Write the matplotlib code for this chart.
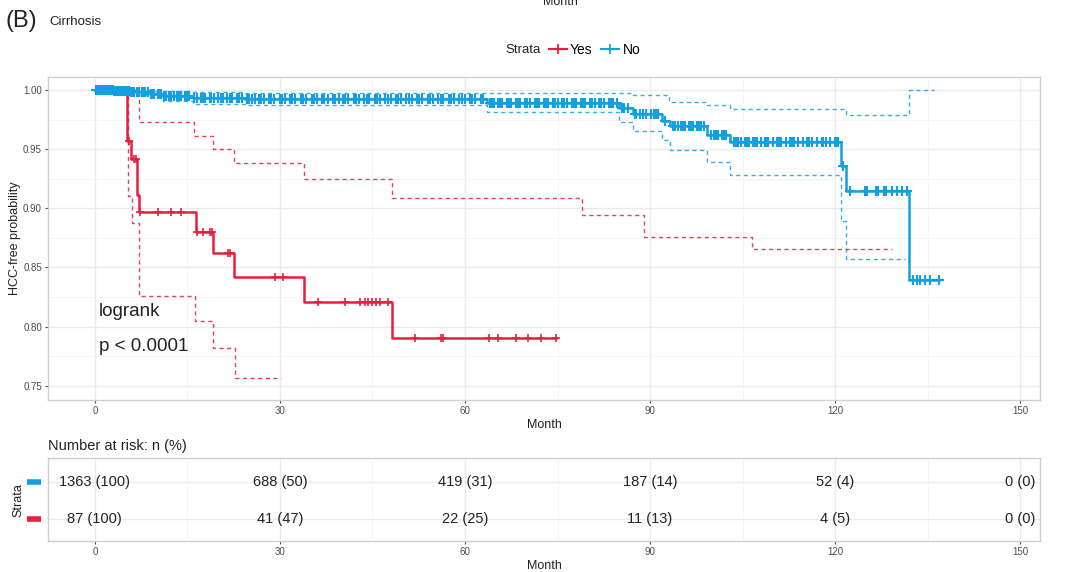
import numpy as np
import matplotlib
matplotlib.use("Agg")
import matplotlib.pyplot as plt
from matplotlib.lines import Line2D

plt.rcParams['font.family'] = ['Liberation Sans', 'DejaVu Sans']

RED = "#E5203F"
BLUE = "#12A0E0"
GRID = "#EBEBEB"
BORDER = "#D0D0D0"
TICK = "#4D4D4D"

# survival steps (time, probability)
yes_t = [0, 5.2, 5.8, 6.9, 7.2, 16.4, 19.1, 22.5, 33.9, 48.1, 74.7]
yes_s = [1.0, 0.957, 0.942, 0.911, 0.897, 0.880, 0.862, 0.842, 0.821, 0.790, 0.790]
yes_up_t = [0, 7.1, 16.0, 19.1, 22.5, 33.9, 48.2, 79.0, 89.0, 106.5, 129.3]
yes_up_s = [1.0, 0.973, 0.961, 0.950, 0.938, 0.925, 0.909, 0.894, 0.876, 0.866, 0.866]
yes_lo_t = [0, 5.4, 6.1, 7.2, 16.2, 19.1, 22.7, 30.1]
yes_lo_s = [1.0, 0.910, 0.888, 0.826, 0.805, 0.782, 0.757, 0.757]
yes_cens = [0.3, 0.6, 2.9, 4.4, 5.5, 6.3, 6.7, 7.4, 10.2, 12.3, 13.9, 16.6, 17.5, 18.6, 19.0,
            21.6, 21.9, 29.2, 30.5, 36.1, 40.5, 43.0, 43.8, 44.2, 44.9, 45.5, 46.2, 47.5,
            51.9, 56.1, 56.4, 63.9, 65.3, 68.2, 70.2, 72.3, 74.7]

no_t = [0, 3.0, 5.7, 8.9, 11.0, 15.9, 24.3, 63.5, 85.0, 87.2, 91.9, 93.2, 99.2, 103.0,
        121.0, 121.7, 131.9, 136.8]
no_s = [1.0, 0.9993, 0.9985, 0.997, 0.995, 0.993, 0.992, 0.989, 0.985, 0.980, 0.974, 0.970,
        0.962, 0.956, 0.936, 0.915, 0.839, 0.839]
no_up_t = [0, 8.9, 15.9, 24.3, 87.2, 93.0, 99.2, 103.0, 121.7, 131.9, 136.0]
no_up_s = [1.0, 0.9995, 0.998, 0.9975, 0.996, 0.990, 0.987, 0.984, 0.979, 1.0, 1.0]
no_lo_t = [0, 3.0, 5.7, 8.9, 11.0, 15.9, 24.3, 63.5, 85.0, 87.2, 91.9, 93.2, 99.2, 103.0,
           121.0, 121.7, 131.3]
no_lo_s = [1.0, 0.998, 0.996, 0.994, 0.991, 0.988, 0.987, 0.981, 0.973, 0.965, 0.958, 0.949,
           0.939, 0.928, 0.889, 0.857, 0.857]
no_cens = [0.2, 0.5, 0.8, 1.1, 1.4, 1.7, 2.0, 2.2, 2.4, 2.7, 2.9, 3.1, 3.4, 3.6, 3.8, 4.0,
           4.2, 4.6, 4.8, 5.0, 5.4, 5.6, 5.9, 6.1, 6.3, 6.8, 7.0, 7.2, 7.7, 7.9, 8.1, 8.6,
           9.1, 9.3, 9.6,
           10.2, 10.5, 10.8, 11.2, 11.5, 12.1, 12.4, 12.8, 13.3, 13.6, 14.0, 14.6, 14.9, 15.2,
           16.1, 16.5, 17.2, 17.5, 17.9, 18.6, 18.9, 19.3, 20.0, 20.4, 20.8, 21.5, 21.9, 22.3,
           23.0, 23.4, 23.8, 24.6,
           25.0, 25.4, 25.9, 26.6, 26.9, 27.5, 28.3, 28.6, 29.1, 30.0, 30.4, 30.9, 31.6, 32.0,
           32.4, 33.5, 33.8, 34.3, 35.2, 35.5, 36.0, 36.9, 37.2, 37.8, 38.6, 39.0, 39.5, 40.3,
           40.6, 41.1, 42.0, 42.3, 42.8, 43.7, 44.1, 44.5, 45.4, 45.8, 46.2, 47.1, 47.5, 48.0,
           48.8, 49.2, 49.7, 50.5, 50.9, 51.4, 52.3, 52.6, 53.1, 54.0, 54.4, 54.8, 55.7, 56.1,
           56.5, 57.4, 57.7, 58.2, 59.1, 59.5, 60.0, 60.8, 61.2, 61.7, 62.6, 63.0,
           64.0, 64.4, 64.7, 65.3, 65.7, 66.0, 66.8, 67.1, 67.5, 68.3, 68.6, 69.0, 69.8, 70.1,
           70.5, 71.3, 71.6, 72.0, 72.8, 73.1, 73.5, 74.3, 74.6, 75.0, 75.8, 76.1, 76.5, 77.3,
           77.6, 78.0, 78.8, 79.1, 79.5, 80.3, 80.6, 81.0, 81.8, 82.1, 82.5, 83.3, 83.6, 84.0,
           84.6, 85.4, 85.8, 86.5, 87.6, 87.8, 88.4, 88.8, 89.3, 90.1, 90.6, 91.0, 91.3, 92.5,
           93.8, 94.1, 94.5, 95.0, 95.3, 95.7, 96.3, 96.6, 97.0, 97.6, 98.0, 98.3, 98.8,
           99.8, 100.3, 100.7, 101.0, 101.6, 102.0, 102.3,
           103.6, 103.9, 104.2, 104.8, 105.4, 105.7, 106.0, 106.7, 107.0, 107.3, 108.0, 108.6,
           108.9, 109.2, 109.9, 110.6, 110.9, 111.3, 112.0, 112.7, 113.0, 113.3, 114.0, 114.8,
           115.5, 115.8, 116.2, 117.0, 117.8, 118.1, 118.5, 119.2, 119.9, 120.2, 120.5, 121.3,
           122.4, 124.8, 125.1, 126.7, 126.9, 128.0, 128.3, 129.2, 130.0, 130.9, 131.6,
           132.6, 133.2, 133.7, 134.5, 135.3, 136.8]

risk_times = [0, 30, 60, 90, 120, 150]
risk_no = ["1363 (100)", "688 (50)", "419 (31)", "187 (14)", "52 (4)", "0 (0)"]
risk_yes = ["87 (100)", "41 (47)", "22 (25)", "11 (13)", "4 (5)", "0 (0)"]


def step_at(t, s, x):
    idx = np.searchsorted(t, x, side="right") - 1
    return np.array(s)[idx]


def style_panel(ax):
    ax.set_facecolor("white")
    for sp in ax.spines.values():
        sp.set_color(BORDER)
        sp.set_linewidth(1.0)
    ax.tick_params(axis="both", colors=TICK, labelsize=7, length=2.5, width=0.8,
                   labelcolor=TICK, pad=1.8)
    ax.set_axisbelow(True)


fig = plt.figure(figsize=(10.8, 5.72), dpi=100)

ax = fig.add_axes([0.0444, 0.3007, 0.9185, 0.5647])
style_panel(ax)
ax.set_xlim(-7.6, 153.2)
ax.set_ylim(0.738, 1.011)
ax.set_xticks([0, 30, 60, 90, 120, 150])
ax.set_xticks([15, 45, 75, 105, 135], minor=True)
ax.set_yticks([0.75, 0.80, 0.85, 0.90, 0.95, 1.00])
ax.set_yticks([0.775, 0.825, 0.875, 0.925, 0.975], minor=True)
ax.set_yticklabels(["0.75", "0.80", "0.85", "0.90", "0.95", "1.00"])
ax.tick_params(which="minor", length=0)
ax.grid(which="major", color=GRID, lw=1.0)
ax.grid(which="minor", color="#F4F4F4", lw=0.6)

# confidence bands
ax.step(no_up_t, no_up_s, where="post", color=BLUE, lw=1.0, ls=(0, (3, 2.5)), alpha=0.85)
ax.step(no_lo_t, no_lo_s, where="post", color=BLUE, lw=1.0, ls=(0, (3, 2.5)), alpha=0.85)
ax.step(yes_up_t, yes_up_s, where="post", color=RED, lw=1.0, ls=(0, (3, 2.5)), alpha=0.85)
ax.step(yes_lo_t, yes_lo_s, where="post", color=RED, lw=1.0, ls=(0, (3, 2.5)), alpha=0.85)

# curves
ax.step(yes_t, yes_s, where="post", color=RED, lw=1.8)
ax.step(no_t, no_s, where="post", color=BLUE, lw=1.8)
ax.plot(yes_cens, step_at(yes_t, yes_s, yes_cens), ls="none", marker="+", ms=6,
        mew=1.2, color=RED)
ax.plot(no_cens, step_at(no_t, no_s, no_cens), ls="none", marker="+", ms=6.5,
        mew=1.5, color=BLUE)

ax.text(0.6, 0.813, "logrank", fontsize=13.5, va="center", ha="left", color="#222222")
ax.text(0.6, 0.783, "p < 0.0001", fontsize=13.5, va="center", ha="left", color="#222222")
ax.set_xlabel("Month", fontsize=9, color="#222222", labelpad=2)
ax.set_ylabel("HCC-free probability", fontsize=9, color="#222222")
ax.yaxis.set_label_coords(-0.027, 0.5)

# titles / legend
fig.text(0.005, 0.963, "(B)", fontsize=17, va="center", ha="left", color="#222222")
fig.text(0.046, 0.962, "Cirrhosis", fontsize=9.5, va="center", ha="left", color="#222222")
fig.text(0.503, 0.997, "Month", fontsize=9, va="center", ha="left", color="#222222")
fig.text(0.468, 0.9126, "Strata", fontsize=9.5, va="center", ha="left", color="#222222")
handles = [Line2D([], [], color=RED, marker="+", lw=1.5, ms=7, mew=1.3),
           Line2D([], [], color=BLUE, marker="+", lw=1.5, ms=7, mew=1.3)]
fig.legend(handles, ["Yes", "No"], loc="center left", bbox_to_anchor=(0.508, 0.9126),
           ncol=2, frameon=False, fontsize=10, handlelength=1.3, handletextpad=0.25,
           columnspacing=0.6, borderaxespad=0, borderpad=0)

# risk table
rax = fig.add_axes([0.0444, 0.0542, 0.9185, 0.1451])
style_panel(rax)
rax.set_xlim(-7.6, 153.2)
rax.set_ylim(0.4, 2.65)
rax.set_xticks(risk_times)
rax.set_xticks([15, 45, 75, 105, 135], minor=True)
rax.tick_params(which="minor", length=0)
rax.set_yticks([1, 2])
rax.set_yticklabels(["", ""])
rax.tick_params(axis="y", length=0)
rax.grid(which="major", color=GRID, lw=1.0)
rax.grid(which="minor", axis="x", color="#F4F4F4", lw=0.6)
for x, a, b in zip(risk_times, risk_no, risk_yes):
    rax.text(x, 2, a, ha="center", va="center", fontsize=10.5, color="#222222")
    rax.text(x, 1, b, ha="center", va="center", fontsize=10.5, color="#222222")
rax.set_xlabel("Month", fontsize=9, color="#222222", labelpad=2)
rax.set_title("Number at risk: n (%)", loc="left", fontsize=10.5, color="#222222", pad=6,
              x=-0.0)
fig.text(0.0167, 0.125, "Strata", fontsize=9, rotation=90, va="center", ha="center",
         color="#222222")
for yy, c in [(2, BLUE), (1, RED)]:
    rax.plot([-11.0, -8.75], [yy, yy], color=c, lw=4, solid_capstyle="butt", clip_on=False)

fig.savefig("out.png", dpi=100, facecolor="white")
